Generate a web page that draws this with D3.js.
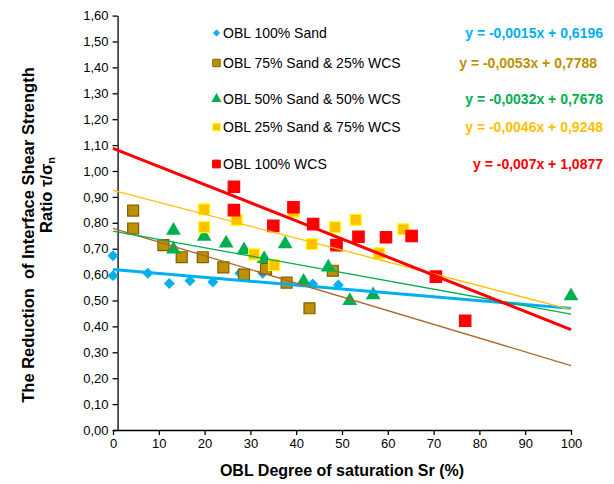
<!DOCTYPE html>
<html>
<head>
<meta charset="utf-8">
<script src="https://cdn.jsdelivr.net/npm/d3@7"></script>
<style>
    body { margin: 0; background: #fff; }
    text { font-family: "Liberation Sans", Arial, sans-serif; }
</style>
</head>
<body>
<svg id="chart" width="614" height="484"></svg>
<script>
// series names
let seriesNames = ["OBL 100% Sand", "OBL 75% Sand & 25% WCS", "OBL 50% Sand & 50% WCS",
                   "OBL 25% Sand & 75% WCS", "OBL 100% WCS"];

// degree of saturation (x) and ratio (y) per series
let sandX = [0, 0, 7.6, 12.3, 16.8, 21.8, 27.7, 32.7, 43.6, 49.2];
let sandY = [0.673, 0.596, 0.605, 0.566, 0.576, 0.571, 0.605, 0.605, 0.564, 0.560];

let s75X = [4.4, 4.4, 11, 15, 19.6, 24.1, 28.6, 33.4, 37.9, 42.9, 48];
let s75Y = [0.847, 0.778, 0.714, 0.667, 0.667, 0.628, 0.600, 0.622, 0.569, 0.470, 0.615];

let s50X = [13.2, 13.2, 19.9, 24.7, 28.6, 33, 37.6, 41.6, 47, 51.7, 56.8, 100];
let s50Y = [0.770, 0.698, 0.747, 0.721, 0.695, 0.661, 0.718, 0.573, 0.628, 0.499, 0.521, 0.517];

let s25X = [19.9, 19.9, 27, 30.8, 35.2, 39.4, 43.4, 48.5, 53, 58.1, 63.4];
let s25Y = [0.852, 0.783, 0.811, 0.678, 0.637, 0.843, 0.718, 0.783, 0.811, 0.682, 0.775];

let wcsX = [26.4, 26.4, 35, 39.4, 43.7, 48.8, 53.6, 59.6, 65.2, 70.5, 76.9];
let wcsY = [0.939, 0.849, 0.788, 0.860, 0.795, 0.714, 0.746, 0.744, 0.749, 0.592, 0.422];

// linear trendlines as printed on the chart
let slopes = [-0.0015, -0.0053, -0.0032, -0.0046, -0.007];
let intercepts = [0.6196, 0.7788, 0.7678, 0.9248, 1.0877];
let equations = ["y = -0,0015x + 0,6196", "y = -0,0053x + 0,7788", "y = -0,0032x + 0,7678",
                 "y = -0,0046x + 0,9248", "y = -0,007x + 1,0877"];

let xTicks = [0, 10, 20, 30, 40, 50, 60, 70, 80, 90, 100];
let yTicks = [0, 0.1, 0.2, 0.3, 0.4, 0.5, 0.6, 0.7, 0.8, 0.9, 1.0, 1.1, 1.2, 1.3, 1.4, 1.5, 1.6];

let seriesX = [sandX, s75X, s50X, s25X, wcsX];
let seriesY = [sandY, s75Y, s50Y, s25Y, wcsY];

let fills   = ["#00B0F0", "#BF9000", "#00B050", "#FFC000", "#FF0000"];
let strokes = ["#00B0F0", "#7F6000", "#00B050", "#FFFF00", "#FF0000"];
let lineColors = ["#00B0F0", "#B0652A", "#00B050", "#FFC000", "#FF0000"];
let lineWidths = [3, 1.3, 1.3, 1.3, 3];
let shapes = [d3.symbolSquare, d3.symbolSquare, d3.symbolTriangle, d3.symbolSquare, d3.symbolSquare];
let rotations = [45, 0, 0, 0, 0];   // diamonds are squares turned by 45 degrees
let sizes = [60, 120, 95, 120, 130];

let svg = d3.select("#chart");

let xScale = d3.scaleLinear().domain([0, 100]).range([113, 571]);
let yScale = d3.scaleLinear().domain([0, 1.6]).range([430, 15.6]);

let commaFmt = v => d3.format(".2f")(v).replace(".", ",");

//X axis
let xAxis = svg.append("g")
    .attr("transform", "translate(0," + yScale(0) + ")")
    .call(d3.axisBottom(xScale).tickValues(xTicks).tickSize(5).tickPadding(4).tickSizeOuter(0));
xAxis.select(".domain").attr("stroke", "#000").attr("stroke-width", 1.3);
xAxis.selectAll(".tick line").attr("stroke", "#000").attr("stroke-width", 1.3);
xAxis.selectAll("text").attr("font-size", 13).attr("fill", "#000")
    .style("font-family", "Liberation Sans, Arial, sans-serif");

//Y axis, crossing the x axis at 1
let yAxis = svg.append("g")
    .attr("transform", "translate(" + xScale(1) + ",0)")
    .call(d3.axisLeft(yScale).tickValues(yTicks).tickFormat(commaFmt).tickSize(5).tickPadding(4).tickSizeOuter(0));
yAxis.select(".domain").attr("stroke", "#000").attr("stroke-width", 1.3);
yAxis.selectAll(".tick line").attr("stroke", "#000").attr("stroke-width", 1.3);
yAxis.selectAll("text").attr("font-size", 13).attr("fill", "#000")
    .style("font-family", "Liberation Sans, Arial, sans-serif");

//Axis titles
svg.append("text")
    .attr("x", (xScale(0) + xScale(100)) / 2)
    .attr("y", 476)
    .attr("text-anchor", "middle")
    .attr("font-size", 16)
    .attr("font-weight", "bold")
    .text("OBL Degree of saturation Sr (%)");

let yTitle = svg.append("text")
    .attr("transform", "rotate(-90)")
    .attr("text-anchor", "middle")
    .attr("font-size", 16.5)
    .attr("font-weight", "bold")
    .style("white-space", "pre");
yTitle.append("tspan")
    .attr("x", -235).attr("y", 34)
    .text("The Reduction  of Interface Shear Strength");
let l2 = yTitle.append("tspan")
    .attr("x", -195).attr("y", 52);
l2.append("tspan").text("Ratio τ/σ");
l2.append("tspan").attr("font-size", 11).attr("dy", 3).text("n");

//Markers
seriesX.forEach((xs, i) => {
    let pts = xs.map((x, j) => ({x: x, y: seriesY[i][j]}));
    svg.append("g").selectAll("path")
        .data(pts)
        .enter().append("path")
        .attr("transform", d => "translate(" + xScale(d.x) + "," + yScale(d.y) + ") rotate(" + rotations[i] + ")")
        .attr("d", d3.symbol().type(shapes[i]).size(sizes[i]))
        .attr("fill", fills[i])
        .attr("stroke", strokes[i])
        .attr("stroke-width", i === 0 || i === 2 ? 0 : 1.2);
});

//Trendlines
let trend = d3.line()
    .x(d => xScale(d[0]))
    .y(d => yScale(d[1]));

slopes.forEach((m, i) => {
    svg.append("path")
        .datum([[0, intercepts[i]], [100, intercepts[i] + m * 100]])
        .attr("d", trend)
        .attr("fill", "none")
        .attr("stroke", lineColors[i])
        .attr("stroke-width", lineWidths[i]);
});

//Legend
let legendY = [33, 63, 99, 127, 164];
let legendSizes = [26, 55, 45, 55, 60];
seriesNames.forEach((name, i) => {
    svg.append("path")
        .attr("transform", "translate(216.5," + legendY[i] + ") rotate(" + rotations[i] + ")")
        .attr("d", d3.symbol().type(shapes[i]).size(legendSizes[i]))
        .attr("fill", fills[i])
        .attr("stroke", strokes[i])
        .attr("stroke-width", i === 0 || i === 2 ? 0 : 1);
    svg.append("text")
        .attr("x", 223)
        .attr("y", legendY[i] + 5)
        .attr("font-size", 14)
        .attr("fill", "#000")
        .text(name);
});

//Equation labels
let eqRight = [603, 597, 603, 603, 603];
equations.forEach((eq, i) => {
    svg.append("text")
        .attr("x", eqRight[i])
        .attr("y", legendY[i] + 5)
        .attr("text-anchor", "end")
        .attr("font-size", 14)
        .attr("font-weight", "bold")
        .attr("fill", fills[i])
        .text(eq);
});
</script>
</body>
</html>
